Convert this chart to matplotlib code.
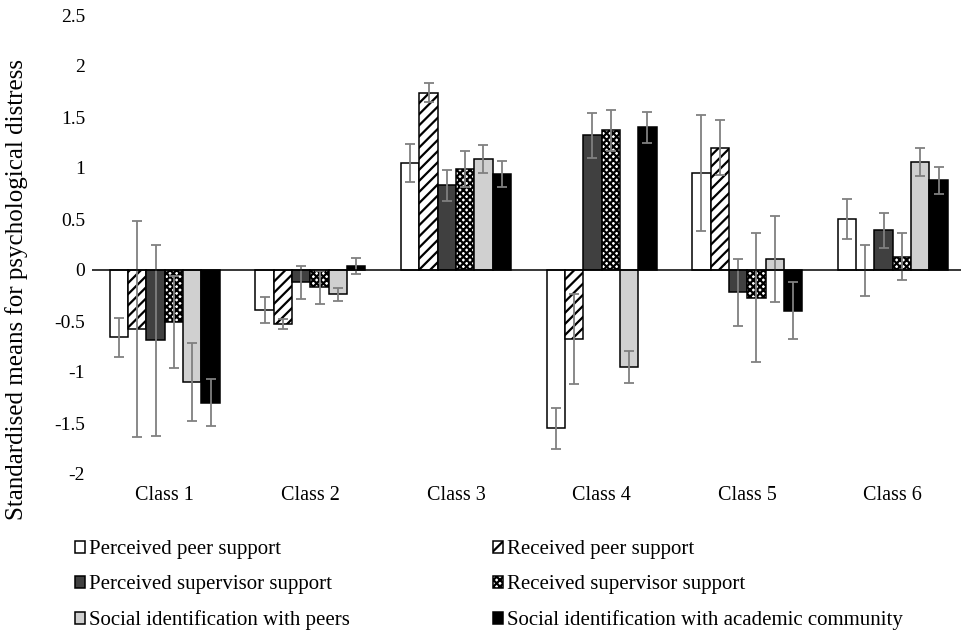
import numpy as np
import matplotlib
matplotlib.use('Agg')
import matplotlib.pyplot as plt

plt.rcParams['font.family'] = 'Liberation Serif'
plt.rcParams['hatch.linewidth'] = 1.6

classes = ['Class 1', 'Class 2', 'Class 3', 'Class 4', 'Class 5', 'Class 6']
series = ['Perceived peer support', 'Received peer support',
          'Perceived supervisor support', 'Received supervisor support',
          'Social identification with peers',
          'Social identification with academic community']

perceived_peer = [-0.66, -0.39, 1.05, -1.55, 0.95, 0.50]
received_peer = [-0.58, -0.53, 1.74, -0.68, 1.20, 0.00]
perceived_sup = [-0.69, -0.12, 0.83, 1.32, -0.22, 0.39]
received_sup = [-0.51, -0.17, 0.99, 1.37, -0.27, 0.13]
social_peers = [-1.10, -0.24, 1.09, -0.95, 0.11, 1.06]
social_academic = [-1.30, 0.04, 0.94, 1.40, -0.40, 0.88]

err_perceived_peer = [0.19, 0.13, 0.19, 0.20, 0.57, 0.20]
err_received_peer = [1.06, 0.05, 0.09, 0.44, 0.27, 0.25]
err_perceived_sup = [0.94, 0.16, 0.15, 0.22, 0.33, 0.17]
err_received_sup = [0.45, 0.16, 0.18, 0.20, 0.63, 0.23]
err_social_peers = [0.38, 0.06, 0.14, 0.16, 0.42, 0.14]
err_social_academic = [0.23, 0.08, 0.13, 0.15, 0.28, 0.13]

values = [perceived_peer, received_peer, perceived_sup,
          received_sup, social_peers, social_academic]
errors = [err_perceived_peer, err_received_peer, err_perceived_sup,
          err_received_sup, err_social_peers, err_social_academic]
colors = ['white', 'white', '#404040', 'white', '#d0d0d0', 'black']
hatches = [None, '///', None, 'xxxxx', None, None]

fig = plt.figure(figsize=(9.62, 6.33), dpi=100)
ax = fig.add_axes([92 / 962, 159 / 633, 870 / 962, 459 / 633])

x = np.arange(len(classes))
w = 0.1257
bars = []
for i in range(6):
    pos = x + (i - 2.5) * w
    b = ax.bar(pos, values[i], w, color=colors[i], edgecolor='black',
               linewidth=1.1, hatch=hatches[i], zorder=2)
    ax.errorbar(pos, values[i], yerr=errors[i], fmt='none', ecolor='#808080',
                elinewidth=1.3, capsize=3.8, capthick=1.3, zorder=3)
    bars.append(b)

ax.axhline(0, color='black', linewidth=1.1, zorder=4)
ax.set_xlim(-0.5, -0.5 + 870 / 145.6)
ax.set_ylim(-2, 2.5)
yt = np.arange(-2, 2.51, 0.5)
ax.set_yticks(yt)
ax.set_yticklabels(['%g' % v for v in yt], fontsize=14)
ax.set_xticks(x)
ax.set_xticklabels(classes, fontsize=14.5)
ax.tick_params(axis='y', length=0, pad=5)
ax.tick_params(axis='x', length=0, pad=9)
for s in ax.spines.values():
    s.set_visible(False)

fig.text(17 / 962, 1 - 290 / 633, 'Standardised means for psychological distress',
         rotation=90, fontsize=18, ha='center', va='center')

# legend in two columns, rows read left to right
for col, anchor in [(0, 75 / 962), (1, 493 / 962)]:
    idx = [col, col + 2, col + 4]
    fig.legend([bars[k] for k in idx], [series[k] for k in idx],
               loc='upper left', bbox_to_anchor=(anchor, 1 - 540 / 633),
               frameon=False, fontsize=15, handlelength=0.5, handleheight=0.5,
               handletextpad=0.15, labelspacing=0.78, borderpad=0, borderaxespad=0)

fig.savefig('out.png', dpi=100)
